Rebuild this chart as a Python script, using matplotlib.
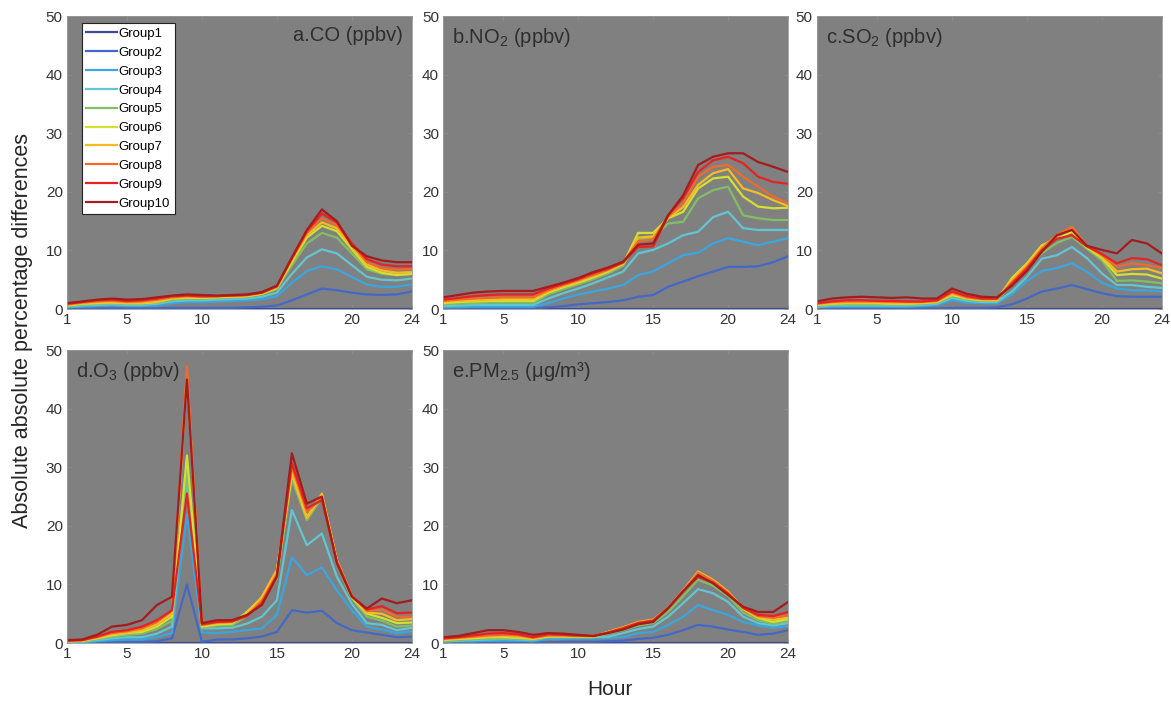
import matplotlib
matplotlib.use('Agg')
import matplotlib.pyplot as plt
import numpy as np

plt.rcParams['font.family'] = ['Liberation Sans', 'DejaVu Sans']
plt.rcParams['mathtext.fontset'] = 'custom'
plt.rcParams['mathtext.rm'] = 'Liberation Sans'
plt.rcParams['mathtext.default'] = 'regular'

hours = np.arange(1, 25)
groups = ['Group%d' % i for i in range(1, 11)]
colors = ['#3b4ba2', '#4468c8', '#3aa6e0', '#62c6d2', '#80bf62',
          '#d2e030', '#f8bc22', '#f06a2c', '#e62222', '#a41c1c']

zero = [0.0] * 24

co = [
    zero,
    [0.1, 0.1, 0.1, 0.1, 0.1, 0.1, 0.1, 0.2, 0.2, 0.2, 0.2, 0.2, 0.3, 0.4, 0.6, 1.5, 2.5, 3.5, 3.2, 2.8, 2.5, 2.4, 2.5, 3.0],
    [0.3, 0.4, 0.5, 0.6, 0.5, 0.5, 0.6, 1.0, 1.2, 1.2, 1.3, 1.4, 1.5, 1.7, 2.2, 4.5, 6.5, 7.3, 6.8, 5.5, 4.2, 3.8, 3.8, 4.2],
    [0.4, 0.6, 0.7, 0.8, 0.7, 0.7, 0.9, 1.3, 1.5, 1.5, 1.6, 1.7, 1.8, 2.1, 2.8, 6.0, 8.8, 10.2, 9.5, 7.5, 5.5, 5.0, 4.9, 5.2],
    [0.5, 0.8, 0.9, 1.0, 0.9, 0.9, 1.1, 1.6, 1.8, 1.8, 1.9, 2.0, 2.1, 2.5, 3.4, 7.5, 11.2, 13.0, 12.2, 9.5, 6.8, 6.0, 5.8, 6.0],
    [0.6, 0.9, 1.0, 1.1, 1.0, 1.0, 1.2, 1.8, 1.9, 1.9, 2.0, 2.1, 2.2, 2.6, 3.6, 8.0, 12.2, 14.2, 13.3, 10.2, 7.2, 6.2, 5.8, 6.0],
    [0.7, 1.0, 1.1, 1.2, 1.1, 1.1, 1.3, 1.9, 2.0, 2.0, 2.1, 2.2, 2.3, 2.7, 3.7, 8.3, 12.6, 14.8, 13.8, 10.6, 7.6, 6.6, 6.2, 6.3],
    [0.8, 1.1, 1.3, 1.4, 1.2, 1.3, 1.6, 2.0, 2.2, 2.1, 2.2, 2.3, 2.4, 2.8, 3.8, 8.6, 13.0, 15.5, 14.3, 11.0, 8.0, 7.0, 6.7, 6.8],
    [0.9, 1.2, 1.5, 1.6, 1.4, 1.5, 1.8, 2.2, 2.3, 2.2, 2.2, 2.3, 2.4, 2.8, 3.9, 8.7, 13.3, 16.3, 14.8, 11.2, 8.5, 7.6, 7.3, 7.3],
    [1.0, 1.3, 1.6, 1.8, 1.6, 1.7, 2.0, 2.3, 2.5, 2.4, 2.3, 2.4, 2.5, 2.9, 4.0, 8.8, 13.5, 17.0, 15.0, 10.8, 9.0, 8.3, 8.0, 8.0],
]

no2 = [
    zero,
    [0.1, 0.1, 0.1, 0.1, 0.1, 0.1, 0.1, 0.3, 0.5, 0.8, 1.0, 1.2, 1.5, 2.1, 2.4, 3.8, 4.7, 5.6, 6.4, 7.2, 7.2, 7.3, 8.0, 9.0],
    [0.3, 0.3, 0.4, 0.4, 0.4, 0.4, 0.4, 1.0, 1.8, 2.5, 3.0, 3.5, 4.1, 5.8, 6.4, 7.8, 9.2, 9.6, 11.2, 12.1, 11.5, 10.9, 11.5, 12.1],
    [0.5, 0.6, 0.7, 0.7, 0.7, 0.7, 0.7, 1.8, 2.7, 3.5, 4.4, 5.4, 6.4, 9.5, 10.1, 11.2, 12.6, 13.2, 15.7, 16.6, 13.8, 13.5, 13.5, 13.5],
    [0.8, 0.9, 1.0, 1.1, 1.1, 1.1, 1.1, 2.5, 3.4, 4.2, 5.1, 6.1, 7.4, 11.8, 12.2, 14.6, 14.9, 18.9, 20.3, 20.9, 16.0, 15.5, 15.2, 15.2],
    [1.0, 1.2, 1.3, 1.4, 1.4, 1.4, 1.4, 2.8, 3.7, 4.5, 5.4, 6.4, 7.7, 13.0, 13.0, 15.5, 16.6, 20.6, 22.3, 22.6, 19.2, 17.5, 17.2, 17.3],
    [1.2, 1.4, 1.5, 1.6, 1.7, 1.7, 1.7, 3.0, 3.9, 4.7, 5.6, 6.6, 7.8, 12.2, 12.4, 15.6, 17.4, 21.2, 23.2, 23.9, 20.6, 19.8, 18.6, 17.6],
    [1.4, 1.6, 1.8, 1.9, 2.0, 2.0, 2.0, 3.2, 4.1, 4.9, 5.8, 6.7, 7.9, 11.6, 11.9, 15.8, 18.0, 22.6, 24.3, 24.6, 22.6, 20.9, 19.2, 18.0],
    [1.6, 1.9, 2.2, 2.4, 2.5, 2.5, 2.5, 3.5, 4.3, 5.1, 6.1, 6.9, 8.0, 10.6, 10.7, 16.0, 19.0, 23.4, 25.4, 26.0, 24.9, 22.6, 21.7, 21.4],
    [2.0, 2.4, 2.8, 3.0, 3.1, 3.1, 3.1, 3.8, 4.5, 5.3, 6.3, 7.1, 8.1, 11.0, 11.2, 16.0, 19.4, 24.6, 26.0, 26.6, 26.6, 25.1, 24.3, 23.4],
]

so2 = [
    zero,
    [0.1, 0.1, 0.1, 0.1, 0.1, 0.1, 0.1, 0.1, 0.1, 0.2, 0.2, 0.2, 0.3, 0.8, 1.8, 3.0, 3.5, 4.1, 3.4, 2.7, 2.2, 2.1, 2.1, 2.1],
    [0.3, 0.4, 0.4, 0.4, 0.4, 0.4, 0.4, 0.5, 0.7, 1.5, 1.1, 1.0, 1.0, 2.5, 4.8, 6.5, 7.0, 7.8, 6.4, 4.5, 3.5, 3.2, 3.2, 3.0],
    [0.4, 0.6, 0.6, 0.6, 0.6, 0.6, 0.6, 0.7, 0.9, 1.9, 1.4, 1.2, 1.2, 3.0, 5.5, 8.6, 9.2, 10.6, 8.7, 6.1, 4.1, 4.1, 3.8, 3.6],
    [0.6, 0.8, 0.8, 0.8, 0.8, 0.8, 0.8, 0.9, 1.1, 2.2, 1.6, 1.4, 1.4, 4.5, 7.0, 9.5, 11.3, 12.3, 10.3, 8.3, 4.8, 4.9, 4.7, 4.4],
    [0.7, 0.9, 1.0, 1.0, 1.0, 0.9, 0.9, 1.0, 1.2, 2.4, 1.8, 1.5, 1.5, 5.3, 7.8, 10.9, 12.0, 13.2, 10.5, 8.7, 5.8, 6.0, 5.9, 5.2],
    [0.8, 1.0, 1.1, 1.1, 1.1, 1.0, 1.0, 1.1, 1.3, 2.6, 1.9, 1.6, 1.6, 5.0, 7.5, 10.6, 12.5, 14.0, 10.7, 9.0, 6.4, 6.8, 6.9, 6.1],
    [0.9, 1.2, 1.3, 1.3, 1.3, 1.2, 1.2, 1.2, 1.4, 2.8, 2.0, 1.7, 1.7, 4.6, 7.2, 10.3, 12.7, 14.0, 10.8, 9.2, 7.2, 7.8, 7.5, 7.0],
    [1.0, 1.3, 1.5, 1.5, 1.4, 1.4, 1.3, 1.3, 1.5, 3.0, 2.2, 1.8, 1.8, 4.3, 6.9, 10.0, 12.0, 12.6, 10.7, 9.4, 7.8, 8.7, 8.5, 7.5],
    [1.3, 1.8, 2.0, 2.1, 2.0, 1.9, 2.0, 1.8, 1.8, 3.5, 2.6, 2.1, 2.0, 4.0, 6.5, 9.8, 12.6, 13.5, 10.8, 10.1, 9.5, 11.8, 11.2, 9.5],
]

o3 = [
    zero,
    [0.0, 0.0, 0.1, 0.1, 0.2, 0.2, 0.3, 0.8, 10.0, 0.2, 0.6, 0.6, 0.8, 1.1, 1.9, 5.6, 5.2, 5.5, 3.4, 2.2, 1.8, 1.4, 1.0, 1.1],
    [0.1, 0.1, 0.3, 0.5, 0.6, 0.6, 1.0, 1.7, 22.0, 1.8, 1.7, 1.9, 2.2, 2.5, 4.8, 14.6, 11.6, 12.9, 9.0, 5.6, 2.8, 2.3, 1.7, 2.0],
    [0.2, 0.2, 0.5, 0.8, 1.0, 1.0, 1.6, 2.8, 28.0, 2.5, 2.5, 2.6, 3.3, 4.5, 7.3, 22.7, 16.7, 18.7, 11.3, 6.7, 3.4, 3.1, 2.2, 2.6],
    [0.3, 0.3, 0.7, 1.1, 1.4, 1.6, 2.4, 3.8, 29.5, 2.6, 3.0, 3.0, 4.6, 7.0, 11.0, 28.0, 21.0, 24.8, 13.5, 7.6, 4.5, 3.8, 2.8, 3.0],
    [0.3, 0.4, 0.8, 1.3, 1.7, 1.9, 2.8, 4.5, 32.0, 2.8, 3.2, 3.3, 5.3, 7.8, 12.3, 28.8, 21.5, 25.3, 14.0, 7.8, 5.0, 4.3, 3.4, 3.5],
    [0.4, 0.4, 0.9, 1.5, 1.8, 2.2, 3.2, 5.0, 46.0, 3.0, 3.4, 3.5, 5.0, 7.9, 12.5, 29.0, 21.3, 25.5, 14.2, 8.0, 5.2, 5.0, 3.9, 4.1],
    [0.4, 0.5, 1.0, 1.7, 2.0, 2.5, 3.6, 5.6, 47.3, 3.1, 3.5, 3.6, 4.7, 7.2, 11.8, 30.2, 22.4, 24.8, 14.0, 8.1, 5.5, 5.7, 4.5, 4.5],
    [0.4, 0.5, 1.1, 1.9, 2.2, 2.8, 3.9, 5.6, 25.5, 3.2, 3.6, 3.7, 4.6, 6.8, 11.5, 30.7, 23.0, 24.4, 13.8, 8.0, 5.7, 6.3, 5.1, 5.2],
    [0.5, 0.6, 1.4, 2.8, 3.1, 3.9, 6.5, 7.9, 45.0, 3.4, 3.9, 3.9, 4.8, 6.5, 11.3, 32.4, 23.8, 25.0, 13.6, 7.9, 5.9, 7.6, 6.8, 7.3],
]

pm25 = [
    zero,
    [0.0, 0.1, 0.1, 0.1, 0.1, 0.1, 0.1, 0.1, 0.2, 0.2, 0.2, 0.3, 0.4, 0.7, 0.9, 1.4, 2.2, 3.1, 2.8, 2.3, 1.9, 1.4, 1.6, 2.2],
    [0.2, 0.3, 0.3, 0.4, 0.4, 0.4, 0.3, 0.7, 0.7, 0.8, 0.8, 0.9, 1.0, 1.7, 1.9, 3.1, 4.5, 6.5, 5.6, 4.8, 3.6, 3.0, 2.6, 2.9],
    [0.3, 0.4, 0.5, 0.6, 0.7, 0.6, 0.5, 1.0, 1.0, 1.0, 1.0, 1.1, 1.7, 2.4, 2.8, 4.5, 6.8, 9.2, 8.5, 7.0, 4.5, 3.4, 3.0, 3.4],
    [0.4, 0.5, 0.7, 0.8, 0.8, 0.8, 0.6, 1.0, 1.0, 1.0, 1.0, 1.6, 2.2, 3.0, 3.4, 5.3, 8.0, 10.8, 9.8, 8.0, 5.2, 3.9, 3.3, 3.8],
    [0.5, 0.7, 0.8, 1.0, 1.0, 0.9, 0.7, 1.1, 1.1, 1.1, 1.1, 1.9, 2.6, 3.5, 3.9, 5.9, 8.8, 12.0, 10.7, 8.7, 5.8, 4.3, 3.6, 4.1],
    [0.6, 0.8, 1.0, 1.1, 1.2, 1.1, 0.8, 1.2, 1.2, 1.2, 1.1, 1.9, 2.7, 3.6, 4.0, 6.0, 9.0, 12.2, 10.8, 8.8, 5.9, 4.4, 4.0, 4.3],
    [0.7, 0.9, 1.1, 1.3, 1.4, 1.3, 0.9, 1.3, 1.3, 1.2, 1.2, 1.8, 2.6, 3.5, 3.9, 6.0, 8.9, 12.0, 10.6, 8.6, 6.0, 4.6, 4.3, 4.8],
    [0.8, 1.0, 1.3, 1.6, 1.7, 1.5, 1.0, 1.5, 1.4, 1.3, 1.2, 1.8, 2.5, 3.4, 3.8, 6.0, 8.9, 11.3, 10.3, 8.4, 6.0, 4.8, 4.6, 5.3],
    [1.0, 1.2, 1.7, 2.2, 2.2, 1.9, 1.4, 1.7, 1.6, 1.4, 1.2, 1.7, 2.3, 3.2, 3.6, 5.9, 8.8, 11.6, 10.2, 8.2, 6.2, 5.3, 5.3, 7.0],
]

titles = ['a.CO (ppbv)', 'b.NO$_2$ (ppbv)', 'c.SO$_2$ (ppbv)',
          'd.O$_3$ (ppbv)', 'e.PM$_{2.5}$ (\u03bcg/m\u00b3)']
datasets = [co, no2, so2, o3, pm25]

fig = plt.figure(figsize=(11.71, 7.04), dpi=100, facecolor='white')
lefts = [0.0572, 0.3785, 0.6977, 0.0572, 0.3785]
bottoms = [0.561, 0.561, 0.561, 0.0866, 0.0866]
w, h = 0.2945, 0.416

for k, data in enumerate(datasets):
    ax = fig.add_axes([lefts[k], bottoms[k], w, h])
    ax.set_facecolor('#808080')
    for g in range(10):
        ax.plot(hours, data[g], color=colors[g], lw=1.6, label=groups[g])
    ax.set_xlim(1, 24)
    ax.set_ylim(0, 50)
    ax.set_xticks([1, 5, 10, 15, 20, 24])
    ax.set_yticks(np.arange(0, 51, 10))
    ax.tick_params(direction='in', length=3, width=0.6, colors='#8c8c8c',
                   labelcolor='#333333', labelsize=11, top=True, right=True, pad=3)
    for s in ax.spines.values():
        s.set_color('#9a9a9a')
        s.set_linewidth(0.6)
    if k == 0:
        ax.text(0.975, 0.965, titles[k], transform=ax.transAxes, ha='right', va='top',
                fontsize=14.5, color='#2e2e2e')
        leg = ax.legend(loc='upper left', bbox_to_anchor=(0.035, 0.985), fontsize=9.5,
                        frameon=True, fancybox=False, handlelength=2.3, labelspacing=0.5,
                        borderpad=0.35, handletextpad=0.15, borderaxespad=0.2)
        leg.get_frame().set_edgecolor('#222222')
        leg.get_frame().set_linewidth(0.8)
        leg.get_frame().set_facecolor('white')
        leg.get_frame().set_alpha(1)
    else:
        ax.text(0.025, 0.965, titles[k], transform=ax.transAxes, ha='left', va='top',
                fontsize=14.5, color='#2e2e2e')

fig.text(0.019, 0.53, 'Absolute absolute percentage differences', rotation=90,
         ha='center', va='center', fontsize=15.5, color='#262626')
fig.text(0.521, 0.02, 'Hour', ha='center', va='center', fontsize=15, color='#262626')

fig.savefig('out.png', dpi=100, facecolor='white')
